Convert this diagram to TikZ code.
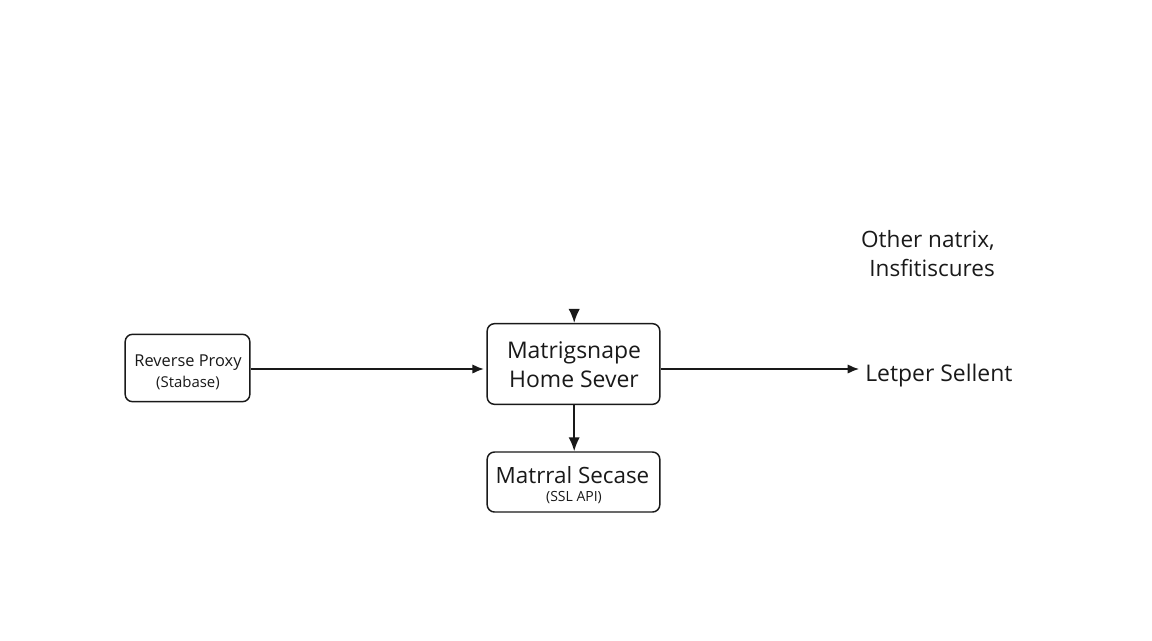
\documentclass[tikz,border=0pt]{standalone}
\usepackage{fontspec}
\setmainfont{Open Sans}
\usetikzlibrary{arrows.meta}
\tikzset{
  x=0.75pt,y=-0.75pt,
  box/.style={draw=black!90,line width=1.1pt,rounded corners=5.5pt,fill=white,inner sep=0pt,text=black!90,align=center},
  flow/.style={draw=black!90,line width=1.1pt,-{Latex[length=8.5pt,width=7pt]},shorten >=2pt},
  vflow/.style={draw=black!90,line width=1.3pt,-{Latex[length=10.5pt,width=8.5pt]}},
  plain/.style={inner sep=0pt,text=black!90,align=center},
  bigt/.style={font=\fontsize{17.2pt}{21.5pt}\selectfont},
  othert/.style={font=\fontsize{16.9pt}{21.5pt}\selectfont},
  storet/.style={font=\fontsize{16.8pt}{21pt}\selectfont},
  midt/.style={font=\fontsize{12.3pt}{15pt}\selectfont},
  smallt/.style={font=\fontsize{11.2pt}{13pt}\selectfont},
  tinyt/.style={font=\fontsize{10.5pt}{12pt}\selectfont}
}
\begin{document}
\begin{tikzpicture}
\useasboundingbox (0,0) rectangle (1152,640);
\node[box,minimum width=93.5pt,minimum height=50.5pt] (proxy) at (187.5,368) {};
\node[plain,midt] (proxyt) at (188,362.5) {Reverse Proxy};
\node[plain,smallt] (proxys) at (188,382.5) {(Stabase)};
\node[box,minimum width=129.5pt,minimum height=60.5pt] (home) at (573.5,364) {};
\node[plain,bigt] (homet) at (574,365) {Matrigsnape\\Home Sever};
\node[box,minimum width=129.5pt,minimum height=45pt] (store) at (573.5,482) {};
\node[plain,storet] (storelabel) at (572.5,475.5) {Matrral Secase};
\node[plain,tinyt] (stores) at (574,497.5) {(SSL API)};
\node[plain,bigt,anchor=west] (letter) at (865,376) {Letper Sellent};
\node[plain,othert,anchor=east,align=right] (other) at (995,253.5) {Other natrix,\\Insfitiscures};
\coordinate (top) at (574.2,309.5);
\coordinate (proxyout) at (proxy.east |- 0,369);
\coordinate (homein) at (home.west |- 0,369);
\coordinate (homeout) at (home.east |- 0,369);
\coordinate (letterin) at (letter.west |- 0,369);
\draw[flow] (proxyout) -- (homein);
\draw[flow,shorten >=4.5pt] (homeout) -- (letterin);
\draw[vflow] (top) -- (home.north -| top);
\draw[vflow] (home.south -| top) -- (store.north -| top);
\end{tikzpicture}
\end{document}
